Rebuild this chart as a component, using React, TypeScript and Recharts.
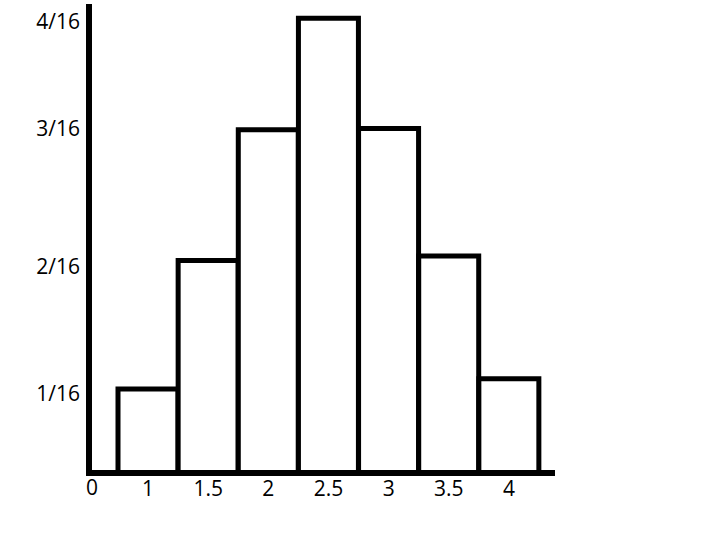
import React from "react";
import { BarChart, Bar, XAxis, YAxis, Label } from "recharts";

// bin labels along the bottom
const categories = ["1", "1.5", "2", "2.5", "3", "3.5", "4"];
// bar heights as drawn, in sixteenths
const heights = [0.74, 1.87, 3.02, 4.0, 3.03, 1.91, 0.83];
// where the y labels sit, in the same units
const yTickValues = [0.7, 1.82, 3.03, 3.97];
const yTickLabels = ["1/16", "2/16", "3/16", "4/16"];
const originLabel = "0";

const data = categories.map((c, i) => ({ name: c, value: heights[i] }));

const font = { fontFamily: "'Open Sans', sans-serif", fontSize: 21, fill: "#000" };
const axisStroke = { stroke: "#000", strokeWidth: 6, strokeLinecap: "square" as const };

export default function App() {
  return (
    <div style={{ position: "absolute", left: 0, top: 0, background: "#fff" }}>
      <BarChart
        width={708}
        height={540}
        data={data}
        margin={{ top: 7, right: 156, bottom: 37, left: 0 }}
        barCategoryGap={0}
      >
        <XAxis
          dataKey="name"
          height={30}
          interval={0}
          padding={{ left: 29, right: 13 }}
          axisLine={axisStroke}
          tickLine={false}
          tickSize={0}
          tickMargin={8}
          tick={font}
        >
          <Label value={originLabel} position="left" offset={-9} style={font} />
        </XAxis>
        <YAxis
          width={89}
          domain={[0, 4.1]}
          ticks={yTickValues}
          tickFormatter={(v: number) => yTickLabels[yTickValues.indexOf(v)]}
          axisLine={axisStroke}
          tickLine={false}
          tickSize={0}
          tickMargin={9}
          tick={font}
        />
        <Bar dataKey="value" fill="#fff" stroke="#000" strokeWidth={5} isAnimationActive={false} />
      </BarChart>
    </div>
  );
}
